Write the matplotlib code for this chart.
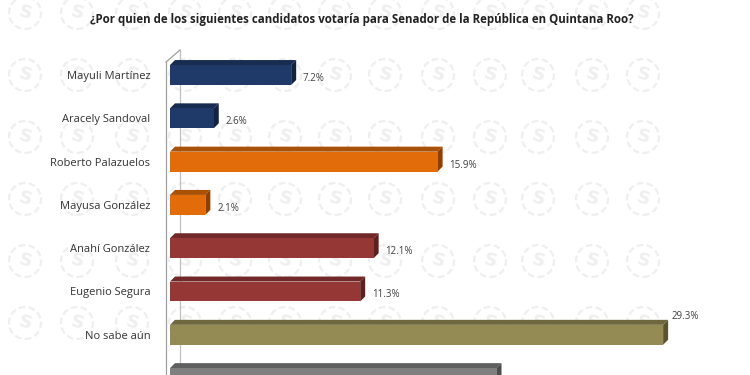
import matplotlib
matplotlib.use("Agg")
import matplotlib.pyplot as plt
from matplotlib.patches import Polygon, Ellipse
import numpy as np

categories = ["Mayuli Martínez", "Aracely Sandoval", "Roberto Palazuelos", "Mayusa González",
              "Anahí González", "Eugenio Segura", "No sabe aún", ""]
values = [7.2, 2.6, 15.9, 2.1, 12.1, 11.3, 29.3, 19.4]
value_labels = ["7.2%", "2.6%", "15.9%", "2.1%", "12.1%", "11.3%", "29.3%", ""]
colors = ["#1f3a68", "#1f3a68", "#e36c0a", "#e36c0a", "#953735", "#953735", "#948a54", "#7f7f7f"]
title = "¿Por quien de los siguientes candidatos votaría para Senador de la República en Quintana Roo?"

W, H = 750, 375
fig = plt.figure(figsize=(7.5, 3.75), dpi=100)
fig.patch.set_facecolor("white")

# watermark logos
wm_cols = [25, 77, 132, 185, 235, 285, 335, 385, 438, 490, 538, 592, 643]
wm_rows = [13, 75, 137, 199, 261, 323]
for yy in wm_rows:
    for xx in wm_cols:
        c = Ellipse((xx / W, 1 - yy / H), 32 / W, 32 / H, transform=fig.transFigure, fill=False,
                    ec="#efefef", lw=1.6, ls=(0, (3, 1.5)), zorder=-2)
        fig.patches.append(c)
        fig.text(xx / W, 1 - yy / H, "S", ha="center", va="center", fontsize=13,
                 color="#efefef", fontweight="bold", rotation=-15, zorder=-2)

px_per_unit = 16.83
x0_px = 170
ax_left_px = 160
ax_top_px = 50
ax = fig.add_axes([ax_left_px / W, 0, (W - ax_left_px) / W, (H - ax_top_px) / H])
ax.set_facecolor("none")
ax.set_xlim(-(x0_px - ax_left_px) / px_per_unit, (W - x0_px) / px_per_unit)
spacing = 43.3
ax.set_ylim((H - 75) / spacing, (ax_top_px - 75) / spacing)

n = len(values)
pos = np.arange(n)
h = 0.46
dx = 5 / px_per_unit
dy = -5 / spacing

def shade(col, f):
    r, g, b = matplotlib.colors.to_rgb(col)
    return (r * f, g * f, b * f)

for i, (v, col) in enumerate(zip(values, colors)):
    top = pos[i] - h / 2
    bot = pos[i] + h / 2
    ax.add_patch(Polygon([(0, top), (v, top), (v + dx, top + dy), (dx, top + dy)],
                         closed=True, fc=shade(col, 0.75), ec="none", zorder=3))
    ax.add_patch(Polygon([(v, top), (v + dx, top + dy), (v + dx, bot + dy), (v, bot)],
                         closed=True, fc=shade(col, 0.6), ec="none", zorder=3))
    ax.barh(pos[i], v, height=h, color=col, zorder=4)
    if value_labels[i]:
        if v == max(values):
            ax.text(v + 0.5, top - 0.2, value_labels[i], ha="left", va="center",
                    fontsize=7, color="#404040", fontfamily="Open Sans")
        else:
            ax.text(v + dx + 0.4, pos[i] + 0.08, value_labels[i], ha="left", va="center",
                    fontsize=7, color="#404040", fontfamily="Open Sans")

# wall lines
xa = (166 - x0_px) / px_per_unit
xb = (180 - x0_px) / px_per_unit
ya = (62 - 75) / spacing
yb = (50 - 75) / spacing
ax.plot([xa, xa], [ya, 10], color="#a0a0a0", lw=0.9, zorder=2, clip_on=False)
ax.plot([xb, xb], [yb, 10], color="#c0c0c0", lw=0.9, zorder=1, clip_on=False)
ax.plot([xa, xb], [ya, yb], color="#a0a0a0", lw=0.9, zorder=2, clip_on=False)

ax.set_yticks(pos[:7])
ax.set_yticklabels(categories[:7], fontsize=8, color="#333333", fontfamily="Open Sans")
ax.tick_params(axis="y", length=0, pad=7)
ax.set_xticks([])
for s in ax.spines.values():
    s.set_visible(False)

fig.text(362 / W, 1 - 20 / H, title, ha="center", va="center", fontsize=8.3,
         fontweight="bold", color="#222222", fontfamily="Open Sans")

fig.savefig("out.png", dpi=100, facecolor="white")
